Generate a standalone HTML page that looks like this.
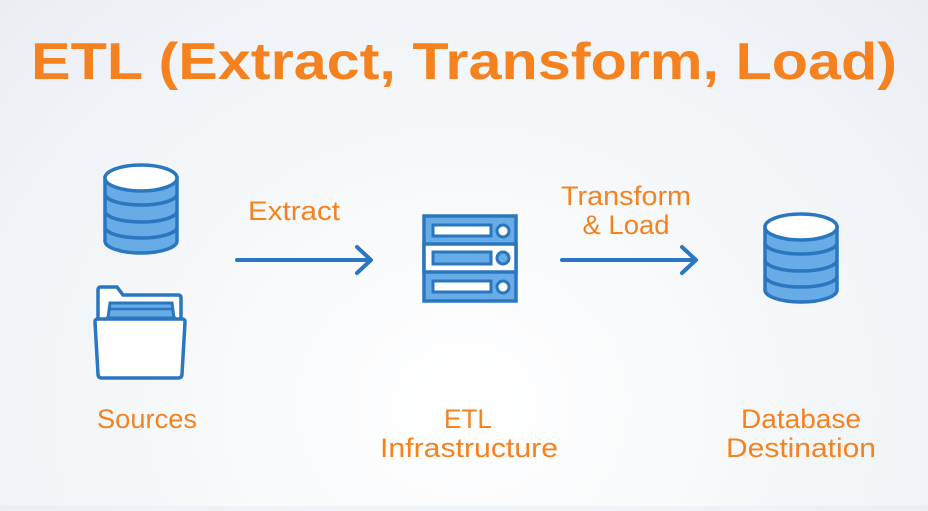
<!DOCTYPE html>
<html><head><style>
html,body{margin:0;padding:0;}
body{width:928px;height:506px;overflow:hidden;background:radial-gradient(ellipse at 50% 80%,#ffffff 0%,#f3f6f9 60%,#eaeef3 100%);font-family:"Liberation Sans",sans-serif;}
</style></head><body>
<svg width="928" height="506" viewBox="0 0 928 506" xmlns="http://www.w3.org/2000/svg">
<defs>
<g id="db">
<path d="M1,14 V77 A36,12 0 0 0 73,77 V14 Z" fill="#67abe7" stroke="#2a77c0" stroke-width="3.5"/>
<path d="M1,30 A36,11 0 0 0 73,30 M1,47 A36,11 0 0 0 73,47 M1,63 A36,11 0 0 0 73,63" fill="none" stroke="#2a77c0" stroke-width="3.5"/>
<ellipse cx="37" cy="14" rx="36" ry="13" fill="#fff" stroke="#2a77c0" stroke-width="3.5"/>
</g>
</defs>
<text x="464" y="79" text-anchor="middle" font-size="52" font-weight="bold" fill="#f5821f" font-family="Liberation Sans, sans-serif" textLength="866" lengthAdjust="spacingAndGlyphs">ETL (Extract, Transform, Load)</text>

<use href="#db" x="104" y="164"/>
<use href="#db" x="764" y="213"/>

<!-- folder -->
<path d="M98,330 V290 Q98,287 101,287 H117 L123,295 H178 Q181,295 181,298 V330" fill="#fff" stroke="#2a77c0" stroke-width="3.5"/>
<path d="M108,318 L110,303 H172 L174,318 Z" fill="#67abe7" stroke="#2a77c0" stroke-width="3"/>
<path d="M106,318 H176" stroke="#2a77c0" stroke-width="3"/>
<path d="M110,309 H172" stroke="#2a77c0" stroke-width="2.5"/>
<path d="M95,322 Q95,319 98,319 H182 Q185,319 185,322 L182,374 Q182,378 178,378 H102 Q98,378 98,374 Z" fill="#fff" stroke="#2a77c0" stroke-width="3.5"/>

<!-- server -->
<rect x="424" y="216" width="92" height="85" fill="#67abe7" stroke="#2a77c0" stroke-width="3.5"/>
<rect x="424" y="244" width="92" height="28" fill="#fff" stroke="#2a77c0" stroke-width="3.5"/>
<rect x="433" y="225" width="58" height="11" fill="#fff" stroke="#2a77c0" stroke-width="3"/>
<circle cx="503" cy="231" r="6" fill="#fff" stroke="#2a77c0" stroke-width="3"/>
<rect x="433" y="252" width="58" height="12" fill="#67abe7" stroke="#2a77c0" stroke-width="3"/>
<circle cx="503" cy="258" r="6" fill="#67abe7" stroke="#2a77c0" stroke-width="3"/>
<rect x="433" y="281" width="58" height="11" fill="#fff" stroke="#2a77c0" stroke-width="3"/>
<circle cx="503" cy="287" r="6" fill="#fff" stroke="#2a77c0" stroke-width="3"/>

<!-- arrows -->
<g stroke="#2a77c0" stroke-width="4" fill="none" stroke-linecap="round" stroke-linejoin="round">
<path d="M237,260 H370 M357,247 L371,260 L357,273"/>
<path d="M562,260 H695 M682,247 L696,260 L682,273"/>
</g>

<g fill="#f5821f" font-size="27" text-anchor="middle" font-family="Liberation Sans, sans-serif" lengthAdjust="spacingAndGlyphs">
<text x="294" y="220" textLength="92" lengthAdjust="spacingAndGlyphs">Extract</text>
<text x="626" y="205" textLength="130" lengthAdjust="spacingAndGlyphs">Transform</text>
<text x="626" y="234" textLength="87" lengthAdjust="spacingAndGlyphs">&amp; Load</text>
<text x="147" y="428" textLength="100" lengthAdjust="spacingAndGlyphs">Sources</text>
<text x="468" y="428" textLength="48" lengthAdjust="spacingAndGlyphs">ETL</text>
<text x="469" y="457" textLength="178" lengthAdjust="spacingAndGlyphs">Infrastructure</text>
<text x="801" y="428" textLength="120" lengthAdjust="spacingAndGlyphs">Database</text>
<text x="801" y="457" textLength="150" lengthAdjust="spacingAndGlyphs">Destination</text>
</g>
</svg>
</body></html>
